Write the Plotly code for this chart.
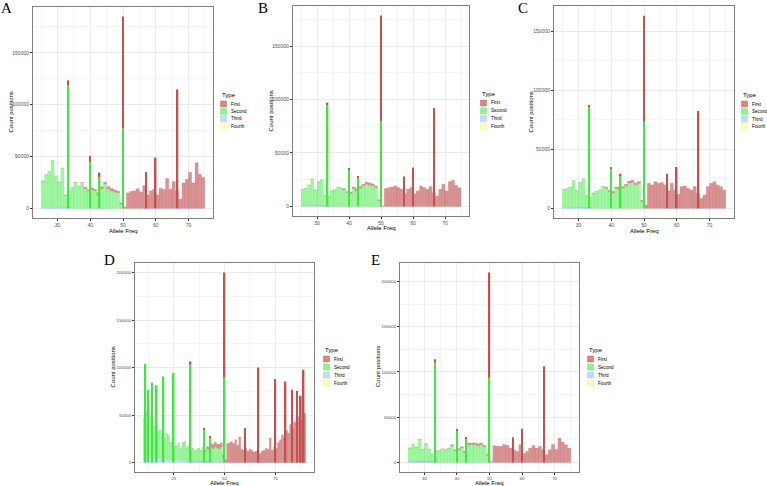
import plotly.graph_objects as go

W, H = 767, 486

# ---------------- data ----------------
# bins (left edges, width 1) for panels A, B, C, E
low_bins = list(range(25, 50))
high_bins = list(range(50, 75))
# panel D bins
D_low_bins = list(range(10, 50))
D_high_bins = list(range(50, 90))

# ---- Panel A ----
A_second = [25000, 31000, 34000, 45000, 30000, 24000, 38000, 12000, 16000, 20000,
            25000, 21000, 25000, 19000, 17000, 18000, 17000, 13000, 19000, 23500,
            19000, 17000, 16000, 15000, 4000]
A_cap = [0, 0, 0, 0, 0, 0, 0, 0, 0, 0, 0, 0, 0,
         1500, 1200, 2000, 1500, 2500, 2000, 1800, 2200, 2500, 2000, 1800, 1500]
A_third = [1500, 1500, 1500, 1200, 1200, 1200, 1000, 1000, 800, 0, 0, 0, 0,
           0, 0, 0, 0, 0, 0, 0, 0, 0, 0, 0, 0]
A_first = [1500, 15000, 16500, 17000, 19000, 16000, 22000, 13000, 17000, 18500,
           13000, 19500, 18500, 29000, 18500, 26000, 17000, 9000, 24500, 28000,
           35000, 24500, 44000, 33000, 30000]
A_spike_x = [33.33, 40, 42.86, 50, 57.14, 60, 66.67]
A_spike_second = [118700, 44800, 30000, 77100, 0, 0, 0]
A_spike_first = [4800, 6000, 4500, 107900, 35000, 49000, 114800]

# ---- Panel B ----
B_second = [15000, 16000, 19000, 24900, 14600, 22400, 24000, 10000, 9000, 14600,
            15500, 17700, 17500, 15500, 13000, 12000, 16800, 14600, 17000, 19300,
            20800, 19900, 19300, 17700, 5300]
B_cap = [0, 0, 0, 0, 0, 0, 0, 0, 0, 0, 0, 0, 0,
         1200, 1000, 1500, 1500, 2000, 1800, 1500, 2000, 2200, 1800, 1500, 1200]
B_third = [1000, 1000, 1000, 800, 800, 800, 700, 700, 600, 0, 0, 0, 0,
           0, 0, 0, 0, 0, 0, 0, 0, 0, 0, 0, 0]
B_first = [600, 16800, 17700, 18300, 19300, 17700, 16200, 12000, 16200, 17700,
           12000, 14600, 19300, 17700, 16200, 18700, 13000, 10000, 16200, 20800,
           14600, 23300, 24600, 19900, 17700]
B_spike_x = [33.33, 40, 42.86, 50, 57.14, 60, 66.67]
B_spike_second = [94500, 34200, 26700, 80000, 0, 0, 0]
B_spike_first = [2500, 1300, 1300, 98500, 28000, 36400, 92000]

# ---- Panel C ----
C_second = [15000, 15600, 17000, 22700, 14200, 21300, 24100, 10000, 8500, 13000,
            14200, 15600, 18500, 17000, 14200, 13000, 17000, 16200, 17000, 19000,
            21300, 21900, 19900, 21300, 6000]
C_cap = [0, 0, 0, 0, 0, 0, 0, 0, 0, 0, 0, 0, 0,
         1000, 1000, 1500, 1200, 1800, 1500, 1500, 1800, 2000, 1600, 1500, 1000]
C_third = [1000, 1000, 1000, 800, 800, 800, 700, 700, 600, 0, 0, 0, 0,
           0, 0, 0, 0, 0, 0, 0, 0, 0, 0, 0, 0]
C_first = [2800, 21300, 19900, 22700, 21300, 21900, 19900, 15000, 21300, 15600,
           12000, 18500, 19000, 17000, 15600, 18500, 12800, 8500, 11400, 18500,
           21300, 22700, 19900, 18500, 15600]
C_spike_x = [33.33, 40, 42.86, 50, 57.14, 60, 66.67]
C_spike_second = [85800, 33000, 28000, 73300, 0, 0, 0]
C_spike_first = [1400, 2000, 1300, 89700, 29300, 35000, 82400]

# ---- Panel D ----
D_second = [40000, 45000, 57000, 43000, 36000, 33000, 31000, 28000, 30000, 24000,
            22000, 27000, 25000, 18000, 21000, 14000, 15000, 18000, 13000, 19000,
            20000, 14000, 16000, 12000, 14000, 11000, 13000, 14000, 12000, 15000,
            11000, 14000, 13000, 15000, 14000, 16000, 15000, 14000, 16000, 5000]
D_cap = [0, 0, 0, 0, 0, 0, 0, 0, 0, 0, 0, 0, 0, 0, 0, 0, 0, 0, 0, 0,
         0, 0, 0, 0, 0, 0, 0, 0, 0, 0,
         1500, 2000, 3000, 4000, 4500, 5000, 4000, 5000, 4500, 3000]
D_third = [7000, 8000, 6000, 6000, 5500, 5000, 5000, 4500, 4500, 4000,
           4000, 3500, 3500, 3000, 3000, 3000, 2500, 2500, 2000, 2000,
           2000, 1500, 1500, 1500, 1000, 1000, 1000, 1000, 800, 800,
           800, 600, 600, 600, 500, 500, 500, 400, 400, 300]
D_first = [3000, 20000, 21000, 22000, 20000, 24000, 18000, 27000, 14000, 13000,
           15000, 12000, 14000, 13000, 11000, 12000, 10000, 9000, 12000, 13000,
           15000, 14000, 26000, 13000, 16000, 15000, 21000, 24000, 29000, 26000,
           34000, 31000, 40000, 36000, 43000, 41000, 48000, 45000, 59000, 52000]
D_spike_x = [11.11, 12.5, 14.29, 16.67, 20, 25, 33.33, 40, 42.86, 50,
             60, 66.67, 75, 80, 83.33, 85.71, 87.5, 88.89]
D_spike_second = [103900, 76600, 84300, 81100, 90600, 94100, 104600, 34600, 26000, 89500,
                  0, 0, 0, 0, 0, 0, 0, 0]
D_spike_first = [0, 0, 0, 0, 0, 0, 1700, 1800, 1600, 110500,
                 36400, 100000, 87800, 85300, 76600, 75500, 70300, 97600]

# ---- Panel E ----
E_second = [15000, 19000, 16000, 25000, 14000, 20000, 14000, 8500, 12000, 13000,
            15000, 14300, 16000, 18600, 13000, 14000, 16000, 10600, 19700, 20000,
            19700, 18600, 19700, 17500, 8000]
E_cap = [0, 0, 0, 0, 0, 0, 0, 0, 0, 0, 0, 0, 0,
         1200, 1000, 1500, 1500, 2000, 1800, 1500, 2000, 2200, 1800, 1500, 1200]
E_third = [1000, 1000, 1000, 800, 800, 800, 700, 700, 600, 0, 0, 0, 0,
           0, 0, 0, 0, 0, 0, 0, 0, 0, 0, 0, 0]
E_first = [1000, 18600, 18000, 18000, 20000, 19000, 16000, 14000, 12400, 19700,
           10000, 12400, 16000, 19000, 16000, 18000, 14300, 8800, 14300, 20000,
           14300, 27000, 22700, 19700, 16000]
E_spike_x = [33.33, 40, 42.86, 50, 57.14, 60, 66.67]
E_spike_second = [110400, 34400, 26000, 93600, 0, 0, 0]
E_spike_first = [3600, 2500, 2100, 116300, 27800, 37300, 106400]

types = ["First", "Second", "Third", "Fourth"]

# ---------------- styling ----------------
FIRST_FILL = "rgba(185,60,60,0.55)"
FIRST_LINE = "rgba(185,60,60,0.35)"
FIRST_SPIKE = "#C45050"
SECOND_FILL = "rgba(70,235,70,0.5)"
SECOND_LINE = "rgba(60,225,60,0.35)"
SECOND_SPIKE = "#45E445"
THIRD_FILL = "#BCD9F5"
KEY_COLORS = ["#D98585", "#8CF58C", "#BFDDFB", "#FFFFB3"]
KEY_LINES = ["#C36A6A", "#74E074", "#A9CBEB", "#EDEDA0"]
FONT = "Liberation Sans"


def fx(x):
    return x / W


def fy(y):
    return 1 - y / H


panels = [
    dict(name="A", box=(33, 7, 213, 218), low=low_bins, high=high_bins,
         second=A_second, cap=A_cap, third=A_third, first=A_first,
         sx=A_spike_x, ss=A_spike_second, sf=A_spike_first,
         xr=(25, 75), xd=10, sw=0.45, tf=5,
         label=(7, 8), xt=(123, 230.5), yt=(10.5, 112), leg=(220, 95, 104, 7.4)),
    dict(name="B", box=(293, 6, 469, 216), low=low_bins, high=high_bins,
         second=B_second, cap=B_cap, third=B_third, first=B_first,
         sx=B_spike_x, ss=B_spike_second, sf=B_spike_first,
         xr=(25, 75), xd=10, sw=0.45, tf=5,
         label=(263, 8), xt=(381, 228.5), yt=(270.5, 111), leg=(480, 94, 103, 7.8)),
    dict(name="C", box=(554, 6, 734, 218), low=low_bins, high=high_bins,
         second=C_second, cap=C_cap, third=C_third, first=C_first,
         sx=C_spike_x, ss=C_spike_second, sf=C_spike_first,
         xr=(25, 75), xd=10, sw=0.45, tf=5,
         label=(523, 8), xt=(644, 230.5), yt=(530.5, 112), leg=(741, 95, 104, 7.5)),
    dict(name="D", box=(135, 263, 314, 472), low=D_low_bins, high=D_high_bins,
         second=D_second, cap=D_cap, third=D_third, first=D_first,
         sx=D_spike_x, ss=D_spike_second, sf=D_spike_first,
         xr=(10, 90), xd=25, sw=0.8, tf=4.4,
         label=(109.5, 259.5), xt=(224.5, 482.5), yt=(112.5, 367), leg=(323, 350, 359, 8)),
    dict(name="E", box=(400, 263, 579, 472), low=low_bins, high=high_bins,
         second=E_second, cap=E_cap, third=E_third, first=E_first,
         sx=E_spike_x, ss=E_spike_second, sf=E_spike_first,
         xr=(25, 75), xd=10, sw=0.45, tf=4.4,
         label=(375, 260), xt=(489.5, 482.5), yt=(378, 367), leg=(587, 350, 359, 8)),
]

fig = go.Figure()
annotations = []
shapes = []
layout_axes = {}

for i, p in enumerate(panels):
    n = "" if i == 0 else str(i + 1)
    xa, ya = "x" + n, "y" + n
    low_c = [b + 0.5 for b in p["low"]]
    high_c = [b + 0.5 for b in p["high"]]
    zeros_high = [0] * len(p["high"])

    # stacking bases (Fourth/Third at bottom, then Second, then First)
    second_base = list(p["third"])
    first_low_base = [t + s for t, s in zip(p["third"], p["second"])]

    # Third (bottom)
    fig.add_trace(go.Bar(x=low_c, y=p["third"], base=[0] * len(low_c), width=1,
                         xaxis=xa, yaxis=ya,
                         marker=dict(color=THIRD_FILL, line=dict(width=0)),
                         showlegend=False, hoverinfo="skip"))
    # Second base
    fig.add_trace(go.Bar(x=low_c, y=p["second"], base=second_base, width=1,
                         xaxis=xa, yaxis=ya,
                         marker=dict(color=SECOND_FILL, line=dict(color=SECOND_LINE, width=0.3)),
                         showlegend=False, hoverinfo="skip"))
    # First base (caps on low bins + high bins)
    fig.add_trace(go.Bar(x=low_c + high_c, y=p["cap"] + p["first"],
                         base=first_low_base + zeros_high, width=1,
                         xaxis=xa, yaxis=ya,
                         marker=dict(color=FIRST_FILL, line=dict(color=FIRST_LINE, width=0.3)),
                         showlegend=False, hoverinfo="skip"))
    # spikes
    fig.add_trace(go.Bar(x=p["sx"], y=p["ss"], base=[0] * len(p["sx"]), width=p["sw"],
                         xaxis=xa, yaxis=ya,
                         marker=dict(color=SECOND_SPIKE, line=dict(width=0)),
                         showlegend=False, hoverinfo="skip"))
    fig.add_trace(go.Bar(x=p["sx"], y=p["sf"], base=list(p["ss"]), width=p["sw"],
                         xaxis=xa, yaxis=ya,
                         marker=dict(color=FIRST_SPIKE, line=dict(width=0)),
                         showlegend=False, hoverinfo="skip"))

    # y range from data
    totals = [s + f for s, f in zip(p["ss"], p["sf"])]
    totals += [b + c for b, c in zip(first_low_base, p["cap"])]
    totals += p["first"]
    ymax = max(totals)
    xlo, xhi = p["xr"]
    xpad = 0.05 * (xhi - xlo)

    x0, y0, x1, y1 = p["box"]
    axis_common = dict(showline=True, mirror=True, linecolor="#7F7F7F", linewidth=1,
                       showgrid=True, gridcolor="#EBEBEB", gridwidth=0.7,
                       zeroline=False, ticks="outside", ticklen=2, tickwidth=0.6,
                       tickcolor="#333333",
                       tickfont=dict(size=p["tf"], color="#4D4D4D", family=FONT))
    layout_axes["xaxis" + n] = dict(
        axis_common, domain=[fx(x0), fx(x1)], anchor=ya,
        range=[xlo - xpad, xhi + xpad], tick0=0, dtick=p["xd"],
        minor=dict(dtick=p["xd"] / 2, showgrid=True, gridcolor="#F5F5F5", gridwidth=0.5))
    layout_axes["yaxis" + n] = dict(
        axis_common, domain=[fy(y1), fy(y0)], anchor=xa,
        range=[-0.05 * ymax, 1.05 * ymax], tick0=0, dtick=50000, tickformat="d",
        minor=dict(dtick=25000, showgrid=True, gridcolor="#F5F5F5", gridwidth=0.5))

    # panel label
    annotations.append(dict(text=p["name"], x=fx(p["label"][0]), y=fy(p["label"][1]),
                            xref="paper", yref="paper", showarrow=False,
                            xanchor="center", yanchor="middle",
                            font=dict(family="Liberation Serif", size=15, color="black")))
    # axis titles
    annotations.append(dict(text="Allele Freq", x=fx(p["xt"][0]), y=fy(p["xt"][1]),
                            xref="paper", yref="paper", showarrow=False,
                            xanchor="center", yanchor="middle",
                            font=dict(family=FONT, size=6, color="black")))
    annotations.append(dict(text="Count positions", x=fx(p["yt"][0]), y=fy(p["yt"][1]),
                            xref="paper", yref="paper", showarrow=False, textangle=-90,
                            xanchor="center", yanchor="middle",
                            font=dict(family=FONT, size=6, color="black")))
    # legend (drawn manually)
    lx, ty, ry, step = p["leg"]
    annotations.append(dict(text="Type", x=fx(lx), y=fy(ty), xref="paper", yref="paper",
                            showarrow=False, xanchor="left", yanchor="middle",
                            font=dict(family=FONT, size=6, color="black")))
    for k, t in enumerate(types):
        cy = ry + k * step
        shapes.append(dict(type="rect", xref="paper", yref="paper",
                           x0=fx(lx + 0.5), x1=fx(lx + 6.5), y0=fy(cy - 3), y1=fy(cy + 3),
                           fillcolor=KEY_COLORS[k], line=dict(color=KEY_LINES[k], width=0.5)))
        annotations.append(dict(text=t, x=fx(lx + 9), y=fy(cy), xref="paper", yref="paper",
                                showarrow=False, xanchor="left", yanchor="middle",
                                font=dict(family=FONT, size=4.6, color="black")))

fig.update_layout(
    width=W, height=H, autosize=False,
    margin=dict(l=0, r=0, t=0, b=0),
    paper_bgcolor="white", plot_bgcolor="white",
    barmode="overlay", showlegend=False,
    annotations=annotations, shapes=shapes,
    **layout_axes,
)

fig.write_html(
    "out.html",
    config={"displayModeBar": False},
    post_script="document.body.style.margin='0px';document.body.style.overflow='hidden';",
)
